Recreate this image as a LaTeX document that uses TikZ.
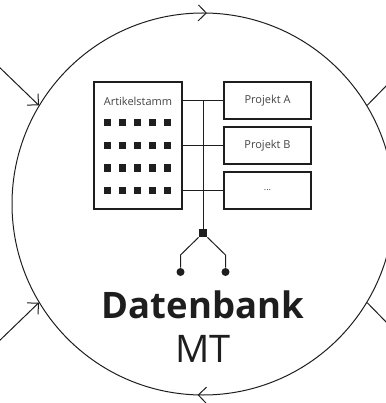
\documentclass[tikz,border=0pt]{standalone}
\usepackage{fontspec}
\setmainfont{Open Sans}
\usetikzlibrary{arrows.meta,decorations.markings}
\definecolor{ink}{HTML}{1E1E1E}
\definecolor{grey}{HTML}{444444}

\begin{document}
\begin{tikzpicture}[x=1pt, y=-1pt, line width=1pt, draw=ink,
    barb/.tip={Straight Barb[length=8pt,width=16pt]},
    feed/.style={-barb},
    ring/.style={circle, draw, inner sep=0pt, minimum size=382pt,
      postaction={decorate, decoration={markings,
        mark=at position 0.2467 with {\arrowreversed{barb}},
        mark=at position 0.7455 with {\arrowreversed{barb}}}}},
    box/.style={draw, line width=1.2pt, fill=white, inner sep=0pt,
      minimum width=87pt, minimum height=37pt, text=grey,
      font=\fontsize{11}{13}\selectfont},
    cell/.style={fill=ink, inner sep=0pt, minimum size=7pt},
    plug/.style={circle, fill=ink, inner sep=0pt, minimum size=8pt}]
      \useasboundingbox (0,0) rectangle (385,403);
      \node[ring] (db) at (203,204) {};
      % flows in and out
      \coordinate (inA) at (-5,63);
      \coordinate (inB) at (-5,345);
      \coordinate (outA) at (390,82);
      \coordinate (outB) at (390,326);
      \draw[feed] (inA) -- (db.149);
      \draw[feed] (inB) -- (db.211);
      \draw (db.31) -- (outA);
      \draw (db.-31) -- (outB);
      % tables
      \node[box, minimum width=88pt, minimum height=127pt] (stamm) at (138,145.5) {};
      \node[text=grey, font=\fontsize{11}{13}\selectfont] (stammtitle) at (138,101) {Artikelstamm};
      \foreach \i in {0,...,4}
        \foreach \j in {0,...,3}
          \node[cell] (c\i\j) at (107+15*\i, 123+22.5*\j) {};
      \node[box] (projA) at (267.5,100.5) {Projekt A};
      \node[box] (projB) at (267.5,145.5) {Projekt B};
      \node[box, font=\fontsize{9}{11}\selectfont] (projC) at (267.5,190.5) {...};
      % bus and plug
      \node[fill=ink, inner sep=0pt, minimum size=8pt] (hub) at (203,233) {};
      \node[plug] (plugl) at (180.5,272) {};
      \node[plug] (plugr) at (225.5,272) {};
      \foreach \p in {projA,projB,projC}
        \draw (stamm.east |- \p) -- (\p.west);
      \draw (hub) -- (hub |- projA);
      \draw (hub) -- ++(-22.5,22) -- (plugl);
      \draw (hub) -- ++(22.5,22) -- (plugr);
      % name
      \node[anchor=base, text=ink, font=\bfseries\fontsize{36.5}{40}\selectfont] (title) at (203,318) {Datenbank};
      \node[anchor=base, text=ink, font=\fontsize{38}{40}\selectfont] (sub) at (203,362) {MT};
   \end{tikzpicture}
\end{document}
